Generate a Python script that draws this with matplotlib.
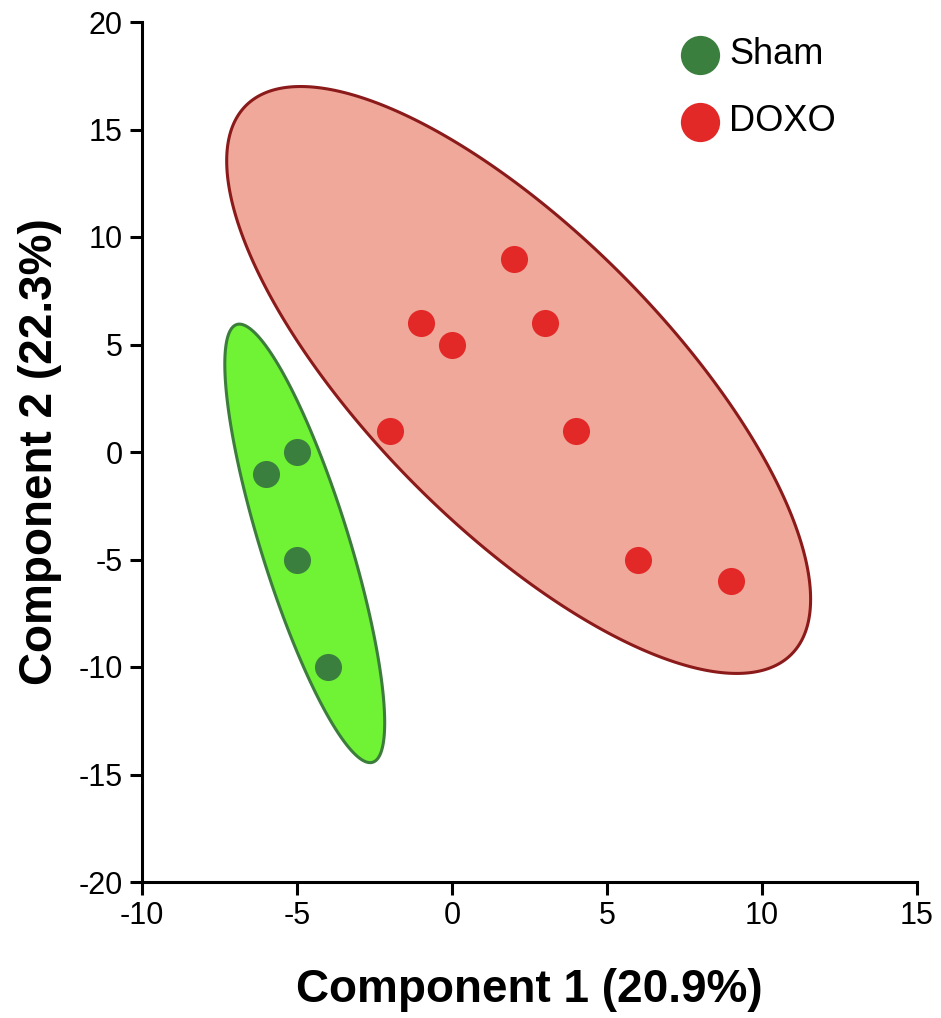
import numpy as np
import matplotlib
matplotlib.use("Agg")
import matplotlib.pyplot as plt

plt.rcParams['font.family'] = ['Liberation Sans', 'DejaVu Sans']
plt.rcParams['axes.unicode_minus'] = False

# PCA scores
sham_x = [-6, -5, -5, -4]
sham_y = [-1, 0, -5, -10]
doxo_x = [2, -1, 0, 3, -2, 4, 6, 9]
doxo_y = [9, 6, 5, 6, 1, 1, -5, -6]

# ellipse centre and shape matrix (data units)
sham_centre = [-4.75, -4.25]
sham_shape = [[6.65, -21.5], [-21.5, 104.0]]
doxo_centre = [2.15, 3.35]
doxo_shape = [[88.7, -96.0], [-96.0, 186.3]]

x_ticks = [-10, -5, 0, 5, 10, 15]
y_ticks = [-20, -15, -10, -5, 0, 5, 10, 15, 20]


def ellipse_pts(centre, shape, n=400):
    t = np.linspace(0, 2 * np.pi, n)
    L = np.linalg.cholesky(np.array(shape))
    xy = L @ np.vstack([np.cos(t), np.sin(t)])
    return centre[0] + xy[0], centre[1] + xy[1]


fig = plt.figure(figsize=(9.41, 10.18), dpi=100)
ax = fig.add_axes([142 / 941, 1 - 882 / 1018, 775 / 941, 860 / 1018])

ex, ey = ellipse_pts(doxo_centre, doxo_shape)
ax.fill(ex, ey, facecolor='#f0a89a', edgecolor='#8b1a1a', lw=2.2, zorder=1)
ex, ey = ellipse_pts(sham_centre, sham_shape)
ax.fill(ex, ey, facecolor='#70f235', edgecolor='#3c7d3c', lw=2.2, zorder=1)

ax.scatter(sham_x, sham_y, s=380, color='#3b7f3f', lw=0, zorder=3, label='Sham')
ax.scatter(doxo_x, doxo_y, s=380, color='#e32828', lw=0, zorder=3, label='DOXO')

ax.set_xlim(-10, 15)
ax.set_ylim(-20, 20)
ax.set_xticks(x_ticks)
ax.set_yticks(y_ticks)
ax.spines[['top', 'right']].set_visible(False)
for s in ['left', 'bottom']:
    ax.spines[s].set_linewidth(2.2)
ax.tick_params(width=2.2, length=9, labelsize=22, pad=5)

ax.set_xlabel('Component 1 (20.9%)', fontsize=33, fontweight='bold', labelpad=26)
ax.set_ylabel('Component 2 (22.3%)', fontsize=33, fontweight='bold', labelpad=12)

ax.legend(loc='upper left', bbox_to_anchor=(0.655, 1.02), frameon=False,
          fontsize=26, markerscale=1.45, handlelength=1.0, handletextpad=0.3,
          labelspacing=0.88)

fig.savefig('out.png', dpi=100)
